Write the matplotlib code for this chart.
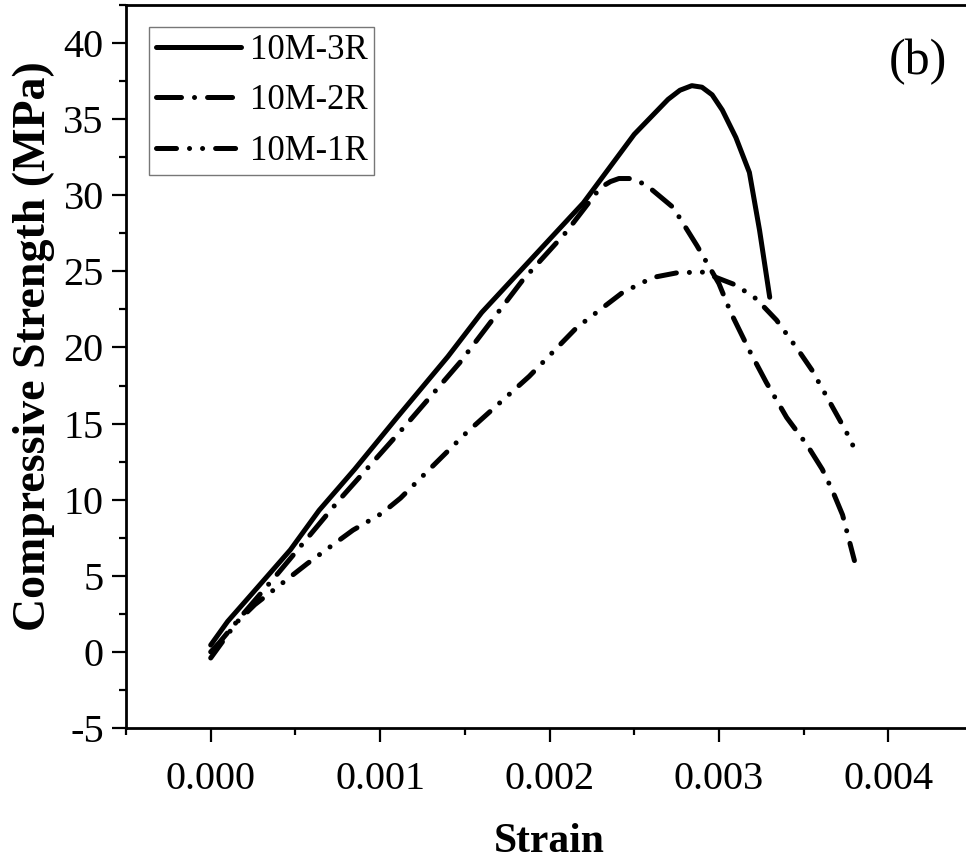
import matplotlib
matplotlib.use("Agg")
import matplotlib.pyplot as plt
from matplotlib.ticker import MultipleLocator, FormatStrFormatter

plt.rcParams['font.family'] = ['Liberation Serif', 'DejaVu Serif']

# ---- data ----
x_3r = [0, 0.0001, 0.00025, 0.00047, 0.00064, 0.00085, 0.0011, 0.0014, 0.0016, 0.0019,
        0.0022, 0.0025, 0.0027, 0.00277, 0.00284, 0.0029, 0.00296, 0.00302, 0.0031,
        0.00318, 0.00324, 0.0033]
y_3r = [0.45, 2.0, 3.9, 6.7, 9.3, 12.0, 15.4, 19.4, 22.3, 25.9,
        29.5, 34.0, 36.3, 36.9, 37.2, 37.1, 36.6, 35.6, 33.8,
        31.5, 27.7, 23.3]

x_2r = [0, 0.00005, 0.0002, 0.0004, 0.00076, 0.00116, 0.00147, 0.00184, 0.0021, 0.0023,
        0.00236, 0.00241, 0.00247, 0.00253, 0.00259, 0.00273, 0.00287, 0.003, 0.00307,
        0.00318, 0.00328, 0.0034, 0.00352, 0.00361, 0.00367, 0.00373, 0.0038]
y_2r = [0.0, 0.6, 2.6, 5.2, 10.0, 15.0, 19.0, 24.4, 27.6, 30.5,
        30.9, 31.1, 31.1, 30.9, 30.5, 29.2, 26.7, 24.2, 22.3,
        19.8, 17.7, 15.4, 13.6, 12.0, 10.6, 9.0, 6.0]

x_1r = [0, 0.00015, 0.00026, 0.00057, 0.00068, 0.00084, 0.00101, 0.00112, 0.0015, 0.00188,
        0.00216, 0.00243, 0.00261, 0.00275, 0.0029, 0.0031, 0.00322, 0.00334, 0.00347,
        0.00355, 0.00365, 0.00375, 0.00382]
y_1r = [-0.4, 1.9, 3.1, 5.8, 6.7, 8.0, 9.1, 10.1, 14.3, 18.1,
        21.3, 23.6, 24.6, 24.9, 24.96, 24.1, 23.2, 21.8, 19.8,
        18.5, 16.5, 14.5, 12.9]

labels = ["10M-3R", "10M-2R", "10M-1R"]
xlabel = "Strain"
ylabel = "Compressive Strength (MPa)"
panel = "(b)"

# ---- figure ----
W, H = 966, 865
fig = plt.figure(figsize=(W / 100, H / 100), dpi=100)
left, right, top, bottom = 126, 973, 5, 728
ax = fig.add_axes([left / W, 1 - bottom / H, (right - left) / W, (bottom - top) / H])

lw = 3.6
ax.plot(x_3r, y_3r, color='black', lw=lw, linestyle='-', solid_capstyle='round',
        solid_joinstyle='round', label=labels[0])
ax.plot(x_2r, y_2r, color='black', lw=lw, linestyle=(0, (5.0, 2.6, 0.01, 2.6)),
        dash_capstyle='round', dash_joinstyle='round', label=labels[1])
ax.plot(x_1r, y_1r, color='black', lw=lw, linestyle=(0, (4.0, 2.6, 0.01, 2.6, 0.01, 2.6)),
        dash_capstyle='round', dash_joinstyle='round', label=labels[2])

ax.set_xlim(-0.0005, 0.0045)
ax.set_ylim(-5, 42.5)

ax.xaxis.set_major_locator(MultipleLocator(0.001))
ax.xaxis.set_minor_locator(MultipleLocator(0.0005))
ax.xaxis.set_major_formatter(FormatStrFormatter('%.3f'))
ax.yaxis.set_major_locator(MultipleLocator(5))
ax.yaxis.set_minor_locator(MultipleLocator(2.5))
ax.yaxis.set_major_formatter(FormatStrFormatter('%d'))

ax.tick_params(which='major', direction='out', length=10, width=1.6, labelsize=29, pad=6)
ax.tick_params(which='minor', direction='out', length=5, width=1.6)
ax.tick_params(axis='x', which='major', pad=14)
for s in ['left', 'bottom', 'top']:
    ax.spines[s].set_linewidth(2.0)
ax.spines['right'].set_visible(False)

fig.text(549 / W, 1 - 842 / H, xlabel, fontsize=30, fontweight='bold',
         ha='center', va='center')
fig.text(34 / W, 1 - 346 / H, ylabel, fontsize=33, fontweight='bold',
         ha='center', va='center', rotation=90)

ax.text((918 - left) / (right - left), (bottom - 62) / (bottom - top), panel,
        transform=ax.transAxes, fontsize=36, ha='center', va='center')

leg = ax.legend(loc='upper left', bbox_to_anchor=(149 / W, 1 - 27 / H),
                bbox_transform=fig.transFigure, borderaxespad=0, fontsize=25,
                handlelength=2.45, handletextpad=0.25, labelspacing=0.5,
                borderpad=0.2, fancybox=False, frameon=True)
leg.get_frame().set_edgecolor('#555555')
leg.get_frame().set_linewidth(1.0)

fig.savefig("out.png", dpi=100)
